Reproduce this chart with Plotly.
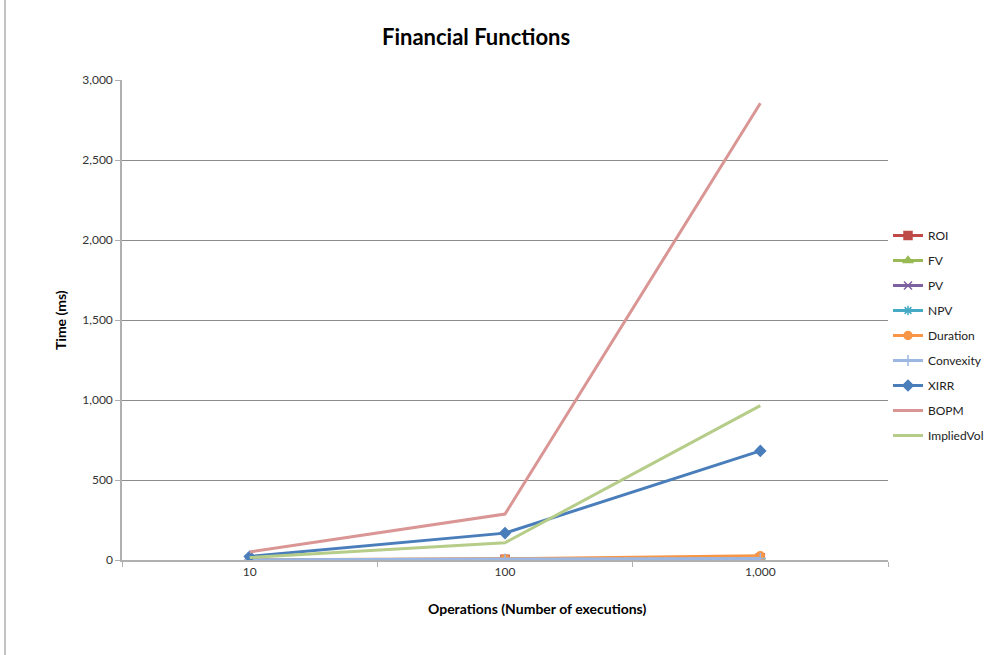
import plotly.graph_objects as go

categories = ["10", "100", "1,000"]
series_names = ["ROI", "FV", "PV", "NPV", "Duration", "Convexity", "XIRR", "BOPM", "ImpliedVol"]
roi = [1, 5, 14]
fv = [1, 3, 10]
pv = [0.5, 2, 8]
npv = [1, 4, 12]
duration = [2, 8, 26]
convexity = [1, 6, 10]
xirr = [22, 168, 682]
bopm = [50, 287, 2855]
impliedvol = [15, 108, 965]
y_ticks = [0, 500, 1000, 1500, 2000, 2500, 3000]

values = [roi, fv, pv, npv, duration, convexity, xirr, bopm, impliedvol]
colors = ["#BE4B48", "#98B954", "#7D60A0", "#46AAC5", "#F79646", "#9BB7E2", "#4A7EBB", "#D99694", "#B5CD88"]
symbols = ["square", "triangle-up", "x-thin-open", "asterisk-open", "circle", "cross-thin-open", "diamond", None, None]

fig = go.Figure()
for name, vals, col, sym in zip(series_names, values, colors, symbols):
    mode = "lines+markers" if sym else "lines"
    marker = dict(symbol=sym, size=8, color=col, line=dict(color=col, width=1.5)) if sym else None
    fig.add_trace(go.Scatter(x=categories, y=vals, name=name, mode=mode, legendgroup=name,
                             line=dict(color=col, width=3), marker=marker))

font = "Lato, 'Open Sans', sans-serif"
L, R, T, B = 122, 888, 80, 560
W, H = R - L, B - T
fig.update_layout(
    width=995, height=655,
    margin=dict(l=L, r=995 - R, t=T, b=655 - B, autoexpand=False),
    paper_bgcolor="white", plot_bgcolor="white",
    font=dict(family=font, size=12, color="#333333"),
    showlegend=True,
    legend=dict(xref="container", yref="container", x=888 / 995, y=1 - 221 / 655,
                xanchor="left", yanchor="top",
                font=dict(size=12, color="#222222"), tracegroupgap=6,
                bgcolor="rgba(0,0,0,0)"),
    xaxis=dict(type="category", range=[-0.5, 2.5], tickson="boundaries",
               ticks="outside", ticklen=5, tickcolor="#B0B0B0",
               showgrid=False, showline=True, linecolor="#B0B0B0", linewidth=1.5,
               tickfont=dict(size=12, color="#333333"), zeroline=False),
    yaxis=dict(range=[0, 3000], tickvals=y_ticks, tickformat=",",
               ticks="outside", ticklen=5, tickcolor="#B0B0B0",
               showgrid=True, gridcolor="#8C8C8C", gridwidth=1,
               showline=True, linecolor="#B0B0B0", linewidth=1.5,
               zeroline=False, tickfont=dict(size=12, color="#333333")),
    annotations=[
        dict(text="<b>Financial Functions</b>", x=(476 - L) / W, y=(B - 36) / H,
             xref="paper", yref="paper", xanchor="center", yanchor="middle",
             showarrow=False, font=dict(size=22, color="#000000", family=font)),
        dict(text="<b>Time (ms)</b>", x=(60 - L) / W, y=0.5, xref="paper", yref="paper",
             xanchor="center", yanchor="middle",
             textangle=-90, showarrow=False, font=dict(size=14, color="#000000", family=font)),
        dict(text="<b>Operations (Number of executions)</b>", x=(537 - L) / W, y=-(608 - B) / H,
             xref="paper", yref="paper", xanchor="center", yanchor="middle", showarrow=False,
             font=dict(size=14, color="#000000", family=font)),
    ],
    shapes=[dict(type="line", xref="paper", yref="paper",
                 x0=(5 - L) / W, x1=(5 - L) / W, y0=-(655 - B) / H, y1=B / H,
                 line=dict(color="#888888", width=1))],
)

fig.write_html("out.html")
